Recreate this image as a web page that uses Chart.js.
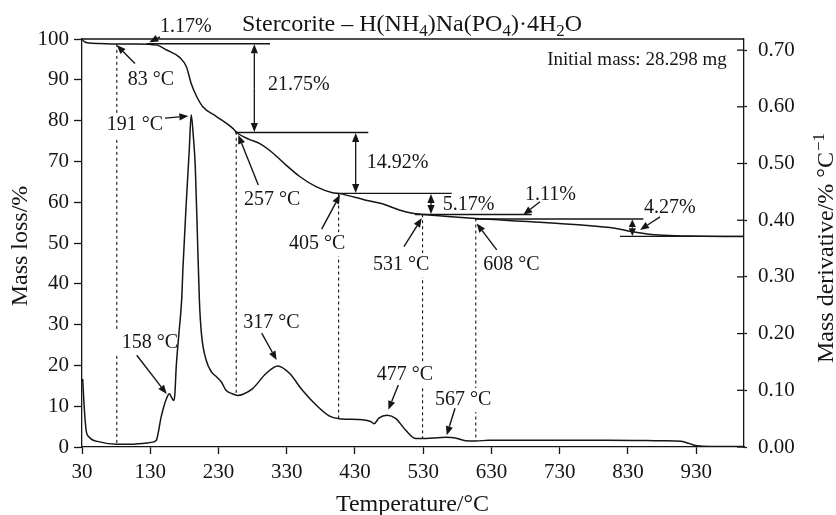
<!DOCTYPE html>
<html>
<head>
<meta charset="utf-8">
<title>Stercorite TG / DTG</title>
<script src="https://cdn.jsdelivr.net/npm/chart.js@4/dist/chart.umd.min.js"></script>
<style>
  html, body { margin: 0; padding: 0; background: #fff; }
  canvas { display: block; }
</style>
</head>
<body>
<canvas id="tga" width="836" height="515"></canvas>
<script>
// ── data ────────────────────────────────────────────────────────────────────
// TG: mass remaining (%) vs temperature
const TG_TEMP = [30, 33, 40, 55, 81, 110, 140, 154, 173, 183, 190, 198, 207, 227, 251, 258,
                 275, 290, 310, 329, 349, 373, 397, 407, 446, 470, 495, 514, 531, 607, 689,
                 762, 811, 835, 864, 899, 918, 1000];
const TG_MASS = [100, 99.4, 99.0, 98.9, 98.8, 98.8, 98.5, 97.3, 95.5, 93.2, 89.1, 85.9, 83.4,
                 81.0, 78.1, 76.9, 75.4, 74.4, 72.0, 69.1, 66.3, 63.8, 62.3, 62.1, 60.5, 59.6,
                 58.1, 57.3, 57.0, 56.0, 55.2, 54.4, 53.6, 52.8, 52.1, 51.8, 51.7, 51.6];

// DTG: mass derivative (%/°C) vs temperature
const DTG_TEMP = [31, 33, 36, 40, 56, 81, 105, 125, 135, 139, 146, 150, 154, 158, 161, 164,
                  166, 168, 172, 176, 178, 183, 187, 190, 193, 196, 199, 202, 205, 212, 220,
                  227, 234, 241, 250, 258, 266, 280, 300, 317, 334, 353, 373, 392, 407, 441,
                  453, 458, 465, 477, 490, 504, 519, 529, 545, 563, 577, 592, 607, 626, 700,
                  800, 880, 908, 920, 932, 950, 1000];
const DTG_RATE = [0.120, 0.075, 0.030, 0.018, 0.009, 0.005, 0.005, 0.007, 0.009, 0.012, 0.053,
                  0.072, 0.086, 0.094, 0.088, 0.082, 0.092, 0.140, 0.200, 0.259, 0.318, 0.436,
                  0.520, 0.586, 0.550, 0.494, 0.377, 0.259, 0.200, 0.153, 0.132, 0.124, 0.115,
                  0.100, 0.094, 0.091, 0.093, 0.103, 0.130, 0.143, 0.130, 0.100, 0.074, 0.055,
                  0.050, 0.048, 0.045, 0.041, 0.051, 0.056, 0.050, 0.030, 0.015, 0.015, 0.016,
                  0.017, 0.016, 0.011, 0.0105, 0.012, 0.012, 0.012, 0.011, 0.010, 0.006, 0.002,
                  0.001, 0.001];

const X_TICKS    = [30, 130, 230, 330, 430, 530, 630, 730, 830, 930];
const MASS_TICKS = [0, 10, 20, 30, 40, 50, 60, 70, 80, 90, 100];
const RATE_TICKS = [0, 0.1, 0.2, 0.3, 0.4, 0.5, 0.6, 0.7];

// mass loss of each step (%), in order
const STEP_LOSS  = [1.17, 21.75, 14.92, 5.17, 1.11, 4.27];
// temperatures marked with dashed drop lines
const EVENT_TEMPS = [81, 256, 406, 529, 607];

// ── annotation layout (axis units: °C, mass %) ─────────────────────────────
const STEP_SPANS   = [[124.8, 305.5], [254.2, 449.5], [403.2, 571.7], [518, 689], [605.9, 852.5], [818.3, 1000]];
const STEP_ARROW_T = [null, 282.5, 431, 541.4, null, 836.4];

// box: temperature labels sit on a white patch that hides the dashed lines
const NOTES = [
  { text: '1.17%',  at: [144.3, 102.9], from: [144.3, 100.5], to: [128.6, 99.2] },
  { text: '83 °C',  at: [97.0, 90.0],   from: [107.7, 94.0],  to: [80.8, 98.5],  box: true },
  { text: '191 °C', at: [66.2, 78.9],   from: [151.6, 80.6],  to: [185.8, 81.1], box: true },
  { text: '21.75%', at: [302.5, 88.7] },
  { text: '257 °C', at: [267.4, 60.7],  from: [288.3, 64.2],  to: [259.0, 76.5], box: true },
  { text: '14.92%', at: [447.2, 69.6] },
  { text: '405 °C', at: [333.3, 49.7],  from: [381.2, 53.4],  to: [408.0, 61.8], box: true },
  { text: '5.17%',  at: [558.5, 59.3] },
  { text: '531 °C', at: [456.4, 44.6],  from: [501.8, 49.1],  to: [527.8, 56.1], box: true },
  { text: '1.11%',  at: [679.1, 61.8],  from: [701.1, 60.1],  to: [676.6, 56.9] },
  { text: '608 °C', at: [618.0, 44.6],  from: [637.7, 48.3],  to: [608.4, 54.8], box: true },
  { text: '4.27%',  at: [853.5, 58.6],  from: [877.0, 56.4],  to: [847.6, 53.2] },
  { text: '158 °C', at: [88.2, 25.6],   from: [110.2, 22.5],  to: [154.1, 13.0], box: true },
  { text: '317 °C', at: [266.4, 30.5],  from: [293.3, 27.9],  to: [315.2, 21.3], box: true },
  { text: '477 °C', at: [461.8, 17.6],  from: [493.5, 15.2],  to: [478.8, 9.1],  box: true },
  { text: '567 °C', at: [547.3, 11.5],  from: [576.6, 9.5],   to: [564.4, 2.9],  box: true },
];

const INK   = '#151515';
const SERIF = "'Liberation Serif', 'Times New Roman', serif";
const NOTE_FONT = `20px ${SERIF}`;

Chart.defaults.font.family = SERIF;
Chart.defaults.color = INK;

function interp(xs, ys, t) {
  for (let i = 1; i < xs.length; i++) {
    if (t <= xs[i]) {
      const f = (t - xs[i - 1]) / (xs[i] - xs[i - 1]);
      return ys[i - 1] + f * (ys[i] - ys[i - 1]);
    }
  }
  return ys[ys.length - 1];
}

function seg(ctx, x1, y1, x2, y2) {
  ctx.beginPath(); ctx.moveTo(x1, y1); ctx.lineTo(x2, y2); ctx.stroke();
}

function arrow(ctx, x1, y1, x2, y2, head = 9, half = 3.6) {
  const a = Math.atan2(y2 - y1, x2 - x1);
  const bx = x2 - head * Math.cos(a), by = y2 - head * Math.sin(a);
  seg(ctx, x1, y1, bx, by);
  ctx.beginPath();
  ctx.moveTo(x2, y2);
  ctx.lineTo(bx + half * Math.sin(a), by - half * Math.cos(a));
  ctx.lineTo(bx - half * Math.sin(a), by + half * Math.cos(a));
  ctx.closePath();
  ctx.fill();
}

function axes(chart) {
  const sx = chart.scales.x, sl = chart.scales.y, sr = chart.scales.y1;
  return {
    X: t => sx.getPixelForValue(t),
    L: v => sl.getPixelForValue(v),
    R: v => sr.getPixelForValue(v),
  };
}

// ═════════════════════════════════════════════════════════════════════════════
// PLUGIN: drop lines + label patches under the curves, everything else on top
// ═════════════════════════════════════════════════════════════════════════════
const annotate = {
  id: 'annotate',
  beforeDatasetsDraw(chart) {
    const { ctx } = chart;
    const { X, L, R } = axes(chart);
    ctx.save();
    ctx.strokeStyle = INK;
    ctx.setLineDash([3, 3]);
    ctx.lineWidth = 1.1;
    EVENT_TEMPS.forEach(t => {
      seg(ctx, X(t), L(interp(TG_TEMP, TG_MASS, t)), X(t), R(interp(DTG_TEMP, DTG_RATE, t)));
    });
    ctx.fillStyle = '#fff';
    ctx.font = NOTE_FONT;
    NOTES.filter(n => n.box).forEach(n => {
      const w = ctx.measureText(n.text).width;
      ctx.fillRect(X(n.at[0]) - 6, L(n.at[1]) - 12, w + 12, 24);
    });
    ctx.restore();
  },

  afterDraw(chart) {
    const { ctx, chartArea: a } = chart;
    const { X, L, R } = axes(chart);

    ctx.save();
    ctx.strokeStyle = INK;
    ctx.fillStyle = INK;
    ctx.lineWidth = 1.3;

    // top edge of the box, and the inner half of the right-hand ticks
    seg(ctx, a.left, a.top, a.right, a.top);
    RATE_TICKS.forEach(v => seg(ctx, a.right - 7, R(v), a.right, R(v)));

    // step levels and double arrows
    const levels = [100];
    STEP_LOSS.forEach(d => levels.push(+(levels[levels.length - 1] - d).toFixed(2)));
    STEP_SPANS.forEach(([t0, t1], i) => {
      const y = L(levels[i + 1]);
      seg(ctx, X(t0), y, Math.min(X(t1), a.right), y);
    });
    STEP_ARROW_T.forEach((t, i) => {
      if (t == null) return;
      const y0 = L(levels[i]), y1 = L(levels[i + 1]), xm = X(t);
      const mid = (y0 + y1) / 2;
      const h = Math.min(9, Math.abs(y1 - y0) / 2.3);
      arrow(ctx, xm, mid, xm, y0 + 0.5, h, 3.6);
      arrow(ctx, xm, mid, xm, y1 - 0.5, h, 3.6);
    });

    // labels with pointers
    ctx.font = NOTE_FONT;
    ctx.textAlign = 'left';
    ctx.textBaseline = 'middle';
    ctx.lineWidth = 1.4;
    NOTES.forEach(n => {
      ctx.fillText(n.text, X(n.at[0]), L(n.at[1]));
      if (n.from) arrow(ctx, X(n.from[0]), L(n.from[1]), X(n.to[0]), L(n.to[1]));
    });

    ctx.font = `19px ${SERIF}`;
    ctx.textAlign = 'right';
    ctx.fillText('Initial mass: 28.298 mg', X(974.6), L(94.9));

    // chart title with subscripts
    const parts = [['Stercorite – H(NH', 0], ['4', 1], [')Na(PO', 0], ['4', 1], [')·4H', 0], ['2', 1], ['O', 0]];
    const big = `24px ${SERIF}`, small = `17px ${SERIF}`;
    let w = 0;
    parts.forEach(([s, sub]) => { ctx.font = sub ? small : big; w += ctx.measureText(s).width; });
    let cx = 412 - w / 2;
    ctx.textAlign = 'left';
    ctx.textBaseline = 'alphabetic';
    parts.forEach(([s, sub]) => {
      ctx.font = sub ? small : big;
      ctx.fillText(s, cx, sub ? 36 : 31);
      cx += ctx.measureText(s).width;
    });

    // axis titles
    ctx.font = big;
    ctx.textAlign = 'center';
    ctx.fillText('Temperature/°C', (a.left + a.right) / 2 - 0.5, 511);

    ctx.save();
    ctx.translate(27, 246);
    ctx.rotate(-Math.PI / 2);
    ctx.fillText('Mass loss/%', 0, 0);
    ctx.restore();

    ctx.save();
    ctx.translate(833, 363);
    ctx.rotate(-Math.PI / 2);
    ctx.textAlign = 'left';
    const main = 'Mass derivative/% °C';
    ctx.fillText(main, 0, 0);
    const mw = ctx.measureText(main).width;
    ctx.font = small;
    ctx.fillText('−1', mw + 1, -9);
    ctx.restore();

    ctx.restore();
  }
};

// ═════════════════════════════════════════════════════════════════════════════
// CHART
// ═════════════════════════════════════════════════════════════════════════════
const tickFont = { size: 21, family: SERIF };
const axisBorder = { color: INK, width: 1.3 };

new Chart(document.getElementById('tga'), {
  type: 'line',
  data: {
    datasets: [
      {
        label: 'TG',
        data: TG_TEMP.map((t, i) => ({ x: t, y: TG_MASS[i] })),
        yAxisID: 'y',
        borderColor: INK, borderWidth: 1.5,
        pointRadius: 0, cubicInterpolationMode: 'monotone', fill: false,
      },
      {
        label: 'DTG',
        data: DTG_TEMP.map((t, i) => ({ x: t, y: DTG_RATE[i] })),
        yAxisID: 'y1',
        borderColor: INK, borderWidth: 1.5,
        pointRadius: 0, cubicInterpolationMode: 'monotone', fill: false,
      },
    ],
  },
  options: {
    responsive: false,
    animation: false,
    events: [],
    layout: { padding: { top: 39, left: 0, right: 0, bottom: 0 } },
    plugins: { legend: { display: false }, tooltip: { enabled: false }, title: { display: false } },
    scales: {
      x: {
        type: 'linear', min: 30, max: 1000,
        afterBuildTicks: s => { s.ticks = X_TICKS.map(v => ({ value: v })); },
        afterFit: s => { s.height = 68; },
        ticks: { font: tickFont, padding: 6, maxRotation: 0, autoSkip: false },
        grid: { drawOnChartArea: false, tickLength: 7, color: INK, tickWidth: 1.3 },
        border: axisBorder,
      },
      y: {
        position: 'left', min: 0, max: 100,
        afterBuildTicks: s => { s.ticks = MASS_TICKS.map(v => ({ value: v })); },
        afterFit: s => { s.width = 82; },
        ticks: { font: tickFont, padding: 5 },
        grid: { drawOnChartArea: false, tickLength: 8, color: INK, tickWidth: 1.3 },
        border: axisBorder,
      },
      y1: {
        position: 'right', min: 0, max: 0.7196,
        afterBuildTicks: s => { s.ticks = RATE_TICKS.map(v => ({ value: v })); },
        afterFit: s => { s.width = 92; },
        ticks: { font: tickFont, padding: 11, callback: v => v.toFixed(2) },
        grid: { drawOnChartArea: false, tickLength: 3, color: INK, tickWidth: 1.3 },
        border: axisBorder,
      },
    },
  },
  plugins: [annotate],
});
</script>
</body>
</html>
